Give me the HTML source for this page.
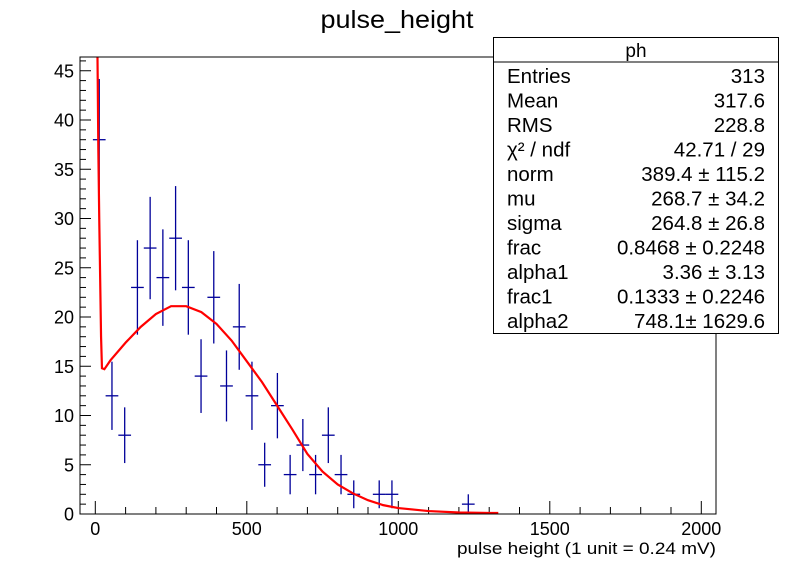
<!DOCTYPE html>
<html><head><meta charset="utf-8"><style>
body{margin:0;background:#fff;}
svg{display:block;font-family:"Liberation Sans",Arial,sans-serif;}
</style></head><body>
<svg id="c" width="796" height="572" viewBox="0 0 796 572">
<rect width="796" height="572" fill="#fff"/>
<text x="397" y="28" font-size="25" text-anchor="middle" textLength="153" lengthAdjust="spacingAndGlyphs">pulse_height</text>
<defs><clipPath id="fc"><rect x="80" y="57" width="636" height="457"/></clipPath></defs>
<g id="axes"></g>
<g id="marks" clip-path="url(#fc)"></g>
<rect x="80" y="57" width="636" height="457" fill="none" stroke="#000" stroke-width="1"/>
<text x="457" y="554" font-size="17" textLength="259" lengthAdjust="spacingAndGlyphs">pulse height (1 unit = 0.24 mV)</text>
<g font-size="20.5">
<rect x="493.5" y="37.5" width="285" height="296" fill="#fff" stroke="#000"/>
<line x1="493.5" y1="62" x2="778.5" y2="62" stroke="#000"/>
<text x="636" y="57" text-anchor="middle" font-size="19">ph</text>
<g id="stats"></g>
</g>
</svg>
<script>
// histogram data
const binCenters=[13,55,97,139,181,223,265,307,349,391,433,475,517,559,601,643,685,727,769,811,853,937,979,1231];
const counts=[38,12,8,23,27,24,28,23,14,22,13,19,12,5,11,4,7,4,8,4,2,2,2,1];
const binWidth=42;
// fit curve
const fitX=[4,6,8,10,13,16,19,22,30,50,100,150,200,250,300,350,400,450,500,550,600,650,700,750,800,850,900,950,1000,1100,1200,1300,1330];
const fitY=[60,50,44,37,30,24,18,14.8,14.7,15.6,17.4,19.0,20.3,21.1,21.1,20.5,19.3,17.6,15.5,13.4,11.0,8.6,6.1,4.3,3.0,2.1,1.4,0.9,0.6,0.3,0.15,0.1,0.1];
const xTicks=[0,500,1000,1500,2000];
const yTicks=[0,5,10,15,20,25,30,35,40,45];
const statLabels=["Entries","Mean","RMS","χ² / ndf","norm","mu","sigma","frac","alpha1","frac1","alpha2"];
const statValues=["313","317.6","228.8","42.71 / 29","389.4 ± 115.2","268.7 ± 34.2","264.8 ± 26.8","0.8468 ± 0.2248","3.36 ± 3.13","0.1333 ± 0.2246","748.1± 1629.6"];

const NS="http://www.w3.org/2000/svg";
const X=u=>95.3+u*0.303;
const Y=v=>514-v*9.85;
function mk(t,a,p){const e=document.createElementNS(NS,t);for(const k in a)e.setAttribute(k,a[k]);p.appendChild(e);return e;}
const axes=document.getElementById('axes'),marks=document.getElementById('marks');
for(let u=0;u<=2000;u+=100){
  const major=u%500===0;
  const t=mk('line',{x1:X(u),x2:X(u),y1:514,y2:514-(major?13:7),stroke:'#000'},axes);
  
  
}
xTicks.forEach(u=>{
  const t=mk('text',{x:X(u),y:535,'font-size':18,'text-anchor':'middle'},axes);t.textContent=u;
  
  
});
for(let v=0;v<=46;v++){
  const major=v%5===0;
  const t=mk('line',{x1:80,x2:80+(major?11:6),y1:Y(v),y2:Y(v),stroke:'#000'},axes);
  
  
}
yTicks.forEach(v=>{
  const t=mk('text',{x:74,y:Y(v)+6.5,'font-size':18,'text-anchor':'end'},axes);t.textContent=v;
  
  
});
binCenters.forEach((c,i)=>{
  const n=counts[i],e=Math.sqrt(n);
  const g=mk('g',{stroke:'#000099','stroke-width':1.3},marks);
  
  
  mk('line',{x1:X(c-binWidth/2),x2:X(c+binWidth/2),y1:Y(n),y2:Y(n)},g);
  mk('line',{x1:X(c),x2:X(c),y1:Y(n+e),y2:Y(n-e)},g);
});
const fp=mk('polyline',{points:fitX.map((u,i)=>X(u)+','+Y(fitY[i])).join(' '),fill:'none',stroke:'#ff0000','stroke-width':2.2},marks);


const sg=document.getElementById('stats');
statLabels.forEach((l,i)=>{
  const y=83+i*24.5;
  const a=mk('text',{x:507,y:y},sg);a.textContent=l;
  
  
  const b=mk('text',{x:765,y:y,'text-anchor':'end'},sg);b.textContent=statValues[i];
  
  
});
</script>
</body></html>
